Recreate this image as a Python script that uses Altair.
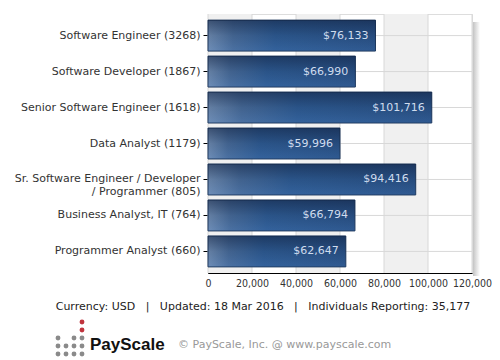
import altair as alt
import pandas as pd

jobs = [
    "Software Engineer (3268)",
    "Software Developer (1867)",
    "Senior Software Engineer (1618)",
    "Data Analyst (1179)",
    "Sr. Software Engineer / Developer\n/ Programmer (805)",
    "Business Analyst, IT (764)",
    "Programmer Analyst (660)",
]
salaries = [76133, 66990, 101716, 59996, 94416, 66794, 62647]
x_ticks = [0, 20000, 40000, 60000, 80000, 100000, 120000]
band_start = [0, 40000, 80000]
band_end = [20000, 60000, 100000]

SEP = "\u00a0\u00a0\u00a0|\u00a0\u00a0\u00a0"
footer = "Currency: USD" + SEP + "Updated: 18 Mar 2016" + SEP + "Individuals Reporting: 35,177"
copyright_text = "\u00a9 PayScale, Inc. @ www.payscale.com"

# logo dots (grid offsets)
dot_col = [3, 3, 0, 2, 3, 0, 1, 2, 3, 0, 1, 2, 3]
dot_row = [0, 1, 2, 2, 2, 3, 3, 3, 3, 4, 4, 4, 4]
dot_red = [1, 1, 0, 0, 0, 0, 0, 0, 0, 0, 0, 0, 0]

W, H = 264, 259
FONT = "DejaVu Sans"

df = pd.DataFrame({"job": jobs, "salary": salaries})
bands = pd.DataFrame({"s": band_start, "e": band_end})
ticks = pd.DataFrame({"t": x_ticks})
dots = pd.DataFrame({
    "px": [-150 + 8 * c for c in dot_col],
    "py": [308 + 8 * r for r in dot_row],
    "col": ["#c0333d" if r else "#8a8a8a" for r in dot_red],
})
one = pd.DataFrame({"a": [0]})

xscale = alt.Scale(domain=[0, 120000], nice=False, zero=True)
yscale = alt.Scale(domain=jobs, paddingInner=0.14, paddingOuter=0.17)

band_layer = alt.Chart(bands).mark_rect(color="#f0f0f0").encode(
    x=alt.X("s:Q", scale=xscale,
            axis=alt.Axis(values=x_ticks, format=",d", title=None, grid=False,
                          ticks=False, labelPadding=5, labelFontSize=10.5,
                          labelColor="#333", labelFont="DejaVu Sans Condensed",
                          labelOverlap=False, labelFlush=False,
                          domainColor="black")),
    x2="e:Q",
    y=alt.value(0),
    y2=alt.value(H),
)

vgrid = alt.Chart(ticks).mark_rule(color="#d8d8d8", strokeWidth=1).encode(
    x=alt.X("t:Q", scale=xscale)
)

hgrid = alt.Chart(df).mark_rule(color="#d8d8d8", strokeWidth=1).encode(
    y=alt.Y("job:N", scale=yscale, sort=None)
)

bar_grad = alt.Gradient(
    gradient="linear",
    stops=[
        alt.GradientStop(color="#7390b5", offset=0),
        alt.GradientStop(color="#4a6e9c", offset=0.15),
        alt.GradientStop(color="#2f5d95", offset=0.4),
        alt.GradientStop(color="#2a5388", offset=1),
    ],
    x1=0, x2=1, y1=0, y2=0,
)
shade_grad = alt.Gradient(
    gradient="linear",
    stops=[
        alt.GradientStop(color="rgba(15,30,60,0.55)", offset=0),
        alt.GradientStop(color="rgba(15,30,60,0.15)", offset=0.5),
        alt.GradientStop(color="rgba(80,130,200,0.15)", offset=1),
    ],
    x1=0, x2=0, y1=0, y2=1,
)

bars = alt.Chart(df).mark_bar(color=bar_grad, stroke="#1b3559", strokeWidth=1).encode(
    x=alt.X("salary:Q", scale=xscale),
    y=alt.Y("job:N", scale=yscale, sort=None,
            axis=alt.Axis(title=None, grid=False, tickSize=5, labelPadding=3,
                          labelFontSize=11, labelColor="#333", labelFont=FONT,
                          labelLineHeight=13, labelLimit=400, tickColor="black",
                          domainColor="black",
                          labelExpr="split(datum.label, '\\n')")),
)
shade = alt.Chart(df).mark_bar(color=shade_grad).encode(
    x=alt.X("salary:Q", scale=xscale),
    y=alt.Y("job:N", scale=yscale, sort=None),
)

labels = alt.Chart(df).mark_text(
    align="right", baseline="middle", dx=-7, fontSize=11, font=FONT,
    color="#cfdcee"
).encode(
    x=alt.X("salary:Q", scale=xscale),
    y=alt.Y("job:N", scale=yscale, sort=None),
    text=alt.Text("salary:Q", format="$,d"),
)

shadow_grad = alt.Gradient(
    gradient="linear",
    stops=[alt.GradientStop(color="#c4c4c4", offset=0),
           alt.GradientStop(color="#ffffff", offset=1)],
    x1=0, x2=1, y1=0, y2=0,
)
shadow = alt.Chart(one).mark_rect(color=shadow_grad).encode(
    x=alt.value(W + 1), x2=alt.value(W + 8), y=alt.value(8), y2=alt.value(H + 3)
)

footer_t = alt.Chart(one).mark_text(
    align="center", baseline="middle", fontSize=11, font=FONT, color="#222"
).encode(x=alt.value(55), y=alt.value(293), text=alt.value(footer))

logo_t = alt.Chart(one).mark_text(
    align="left", baseline="alphabetic", fontSize=17, font="Liberation Sans",
    fontWeight="bold", color="#111"
).encode(x=alt.value(-118), y=alt.value(336), text=alt.value("PayScale"))

copy_t = alt.Chart(one).mark_text(
    align="left", baseline="middle", fontSize=11, font=FONT, color="#999"
).encode(x=alt.value(-30), y=alt.value(331), text=alt.value(copyright_text))

logo_dots = alt.Chart(dots).mark_circle(size=24, opacity=1).encode(
    x=alt.X("px:Q", scale=None, axis=None),
    y=alt.Y("py:Q", scale=None, axis=None),
    color=alt.Color("col:N", scale=None),
)

chart = alt.layer(
    shadow, band_layer, vgrid, hgrid, bars, shade, labels,
    footer_t, logo_t, copy_t, logo_dots
).properties(
    width=W, height=H,
    autosize=alt.AutoSizeParams(type="none"),
    padding={"left": 200, "top": 6, "right": 20, "bottom": 84},
).configure_view(stroke="black", strokeWidth=1).configure(background="white")

chart.save("out.html", embed_options={"renderer": "svg", "actions": False})
